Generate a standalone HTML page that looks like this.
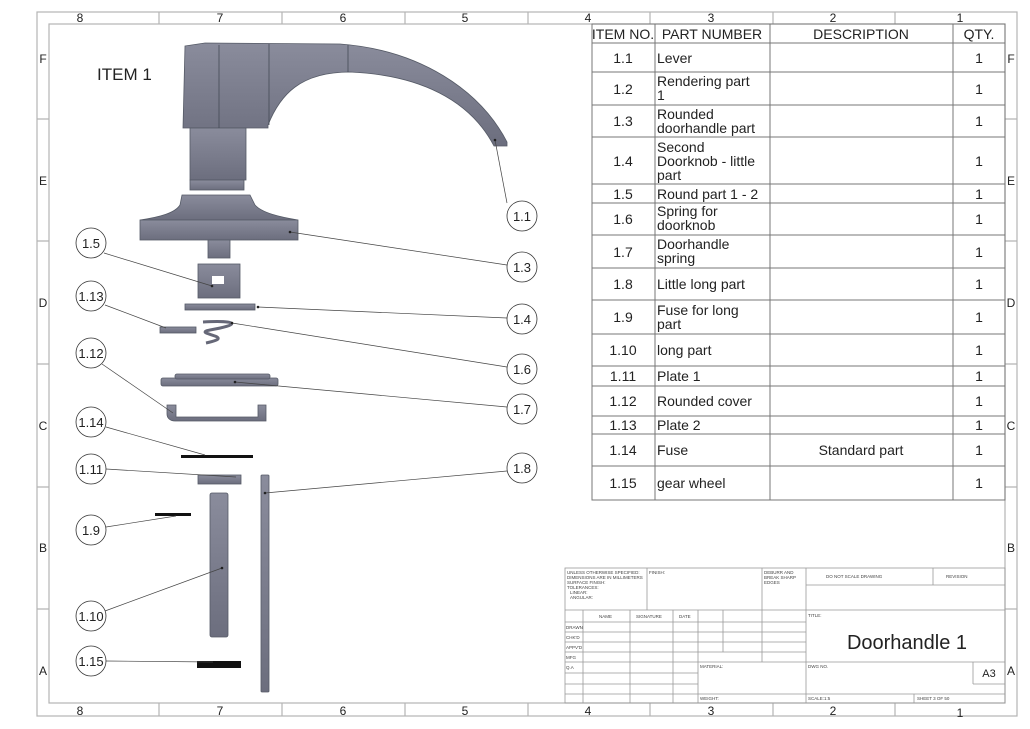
<!DOCTYPE html>
<html><head><meta charset="utf-8"><style>
html,body{margin:0;padding:0;background:#fff;}
svg{display:block;font-family:"Liberation Sans",sans-serif;}
</style></head><body>
<svg width="1030" height="729" viewBox="0 0 1030 729" xmlns="http://www.w3.org/2000/svg">
<defs>
<linearGradient id="g" x1="0" y1="0" x2="0" y2="1"><stop offset="0" stop-color="#8a8c9c"/><stop offset="1" stop-color="#6c6e7e"/></linearGradient>
</defs>
<!-- frame -->
<g fill="none" stroke="#b4b4b4" stroke-width="1.2">
<rect x="37" y="12" width="980" height="704"/>
<rect x="49" y="24" width="956" height="679"/>
<path d="M159 12V24M282 12V24M405 12V24M528 12V24M650 12V24M773 12V24M895 12V24M159 703V716M282 703V716M405 703V716M528 703V716M650 703V716M773 703V716M895 703V716M37 119H49M37 241H49M37 364H49M37 487H49M37 609H49M1005 119H1017M1005 241H1017M1005 364H1017M1005 487H1017M1005 609H1017"/>
</g>
<g font-size="12" fill="#222" text-anchor="middle">
<text x="80" y="22">8</text><text x="220" y="22">7</text><text x="343" y="22">6</text><text x="465" y="22">5</text><text x="588" y="22">4</text><text x="711" y="22">3</text><text x="833" y="22">2</text><text x="960" y="22">1</text>
<text x="80" y="715">8</text><text x="220" y="715">7</text><text x="343" y="715">6</text><text x="465" y="715">5</text><text x="588" y="715">4</text><text x="711" y="715">3</text><text x="833" y="715">2</text><text x="960" y="717">1</text>
<text x="43" y="63">F</text><text x="43" y="185">E</text><text x="43" y="307">D</text><text x="43" y="430">C</text><text x="43" y="552">B</text><text x="43" y="675">A</text>
<text x="1011" y="63">F</text><text x="1011" y="185">E</text><text x="1011" y="307">D</text><text x="1011" y="430">C</text><text x="1011" y="552">B</text><text x="1011" y="675">A</text>
</g>
<text x="97" y="80" font-size="17" fill="#222">ITEM 1</text>

<!-- handle -->
<g fill="url(#g)" stroke="#555a66" stroke-width="0.8">
<path d="M185 46 L205 43 L340 44 C420 50 480 90 507 142 L507 146 L494 146 C470 100 420 75 350 72 C300 72 280 95 268 125 L268 128 L183 128 Z"/>
<rect x="190" y="128" width="56" height="52"/>
<rect x="190" y="180" width="54" height="10"/>
<path d="M182 195 L250 195 L255 205 C262 213 280 217 298 220 L140 220 C160 217 175 213 180 205 Z"/>
<rect x="140" y="220" width="158" height="20"/>
<rect x="208" y="240" width="22" height="18"/>
</g>
<path d="M219 45V128M269 44V125M348 45V72" stroke="#444a55" stroke-width="0.8"/>
<!-- 1.5 -->
<g fill="url(#g)" stroke="#555a66" stroke-width="0.8">
<rect x="198" y="264" width="42" height="34"/>
<rect x="185" y="304" width="70" height="6"/>
<rect x="160" y="327" width="36" height="6"/>
<path d="M203 322 C240 320 240 325 210 330 C190 334 240 336 206 343" fill="none" stroke="#666878" stroke-width="3"/>
<rect x="161" y="378" width="117" height="8" rx="2"/>
<rect x="175" y="374" width="95" height="5" rx="2"/>
<path d="M167 405 H176 V417 H258 V405 H266 V421 H175 C170 421 167 418 167 414 Z"/>
<rect x="198" y="475" width="43" height="9"/>
<rect x="210" y="493" width="18" height="144" rx="2"/>
<rect x="261" y="475" width="8" height="217" rx="1"/>
</g>
<rect x="212" y="276" width="12" height="8" fill="#fff"/>
<g fill="#111">
<rect x="181" y="455" width="72" height="3"/>
<rect x="155" y="513" width="36" height="3"/>
<rect x="197" y="661" width="44" height="7"/>
</g>

<!-- leaders -->
<g stroke="#444" stroke-width="0.7" fill="none">
<path d="M507 203L495 140M507 265L290 232M507 318L258 307M507 367L232 323M507 407L235 382M507 471L265 493"/>
<path d="M104 253L212 286M105 305L166 328M102 364L173 413M106 427L205 455M106 469L236 477M106 527L176 516M105 611L222 568M106 661L213 662"/>
</g>
<g fill="#222"><circle cx="495" cy="140" r="1.3"/><circle cx="290" cy="232" r="1.3"/><circle cx="258" cy="307" r="1.3"/><circle cx="232" cy="323" r="1.3"/><circle cx="235" cy="382" r="1.3"/><circle cx="265" cy="493" r="1.3"/><circle cx="212" cy="286" r="1.3"/><circle cx="222" cy="568" r="1.3"/></g>
<g fill="#fff" stroke="#333" stroke-width="0.8">
<circle cx="522" cy="216" r="15"/><circle cx="522" cy="267" r="15"/><circle cx="522" cy="319" r="15"/><circle cx="522" cy="369" r="15"/><circle cx="522" cy="409" r="15"/><circle cx="522" cy="468" r="15"/>
<circle cx="91" cy="243" r="15"/><circle cx="91" cy="296" r="15"/><circle cx="91" cy="353" r="15"/><circle cx="91" cy="422" r="15"/><circle cx="91" cy="469" r="15"/><circle cx="91" cy="530" r="15"/><circle cx="91" cy="616" r="15"/><circle cx="91" cy="661" r="15"/>
</g>
<g font-size="13" fill="#222" text-anchor="middle">
<text x="522" y="221">1.1</text><text x="522" y="272">1.3</text><text x="522" y="324">1.4</text><text x="522" y="374">1.6</text><text x="522" y="414">1.7</text><text x="522" y="473">1.8</text>
<text x="91" y="248">1.5</text><text x="91" y="301">1.13</text><text x="91" y="358">1.12</text><text x="91" y="427">1.14</text><text x="91" y="474">1.11</text><text x="91" y="535">1.9</text><text x="91" y="621">1.10</text><text x="91" y="666">1.15</text>
</g>

<!-- BOM table -->
<g stroke="#777" stroke-width="1" fill="none">
<rect x="592" y="24" width="413" height="476"/>
<path d="M655 24V500M770 24V500M953 24V500"/>
<path d="M592 43H1005M592 72H1005M592 105H1005M592 137H1005M592 184H1005M592 203H1005M592 235H1005M592 268H1005M592 300H1005M592 334H1005M592 366H1005M592 386H1005M592 416H1005M592 434H1005M592 466H1005"/>
</g>
<g font-size="14" fill="#222">
<g text-anchor="middle">
<text x="623" y="39">ITEM NO.</text><text x="712" y="39">PART NUMBER</text><text x="861" y="39">DESCRIPTION</text><text x="979" y="39">QTY.</text>
<text x="623" y="63">1.1</text><text x="623" y="94">1.2</text><text x="623" y="126">1.3</text><text x="623" y="166">1.4</text><text x="623" y="199">1.5</text><text x="623" y="224">1.6</text><text x="623" y="257">1.7</text><text x="623" y="289">1.8</text><text x="623" y="322">1.9</text><text x="623" y="355">1.10</text><text x="623" y="381">1.11</text><text x="623" y="406">1.12</text><text x="623" y="430">1.13</text><text x="623" y="455">1.14</text><text x="623" y="488">1.15</text>
<text x="861" y="455">Standard part</text>
<g><text x="979" y="63">1</text><text x="979" y="94">1</text><text x="979" y="126">1</text><text x="979" y="166">1</text><text x="979" y="199">1</text><text x="979" y="224">1</text><text x="979" y="257">1</text><text x="979" y="289">1</text><text x="979" y="322">1</text><text x="979" y="355">1</text><text x="979" y="381">1</text><text x="979" y="406">1</text><text x="979" y="430">1</text><text x="979" y="455">1</text><text x="979" y="488">1</text></g>
</g>
<text x="657" y="63">Lever</text>
<text x="657" y="86">Rendering  part</text><text x="657" y="100">1</text>
<text x="657" y="119">Rounded</text><text x="657" y="133">doorhandle part</text>
<text x="657" y="152">Second</text><text x="657" y="166">Doorknob - little</text><text x="657" y="180">part</text>
<text x="657" y="199">Round part 1 - 2</text>
<text x="657" y="216">Spring for</text><text x="657" y="230">doorknob</text>
<text x="657" y="249">Doorhandle</text><text x="657" y="263">spring</text>
<text x="657" y="289">Little long part</text>
<text x="657" y="315">Fuse for long</text><text x="657" y="329">part</text>
<text x="657" y="355">long part</text>
<text x="657" y="381">Plate 1</text>
<text x="657" y="406">Rounded cover</text>
<text x="657" y="430">Plate 2</text>
<text x="657" y="455">Fuse</text>
<text x="657" y="488">gear wheel</text>
</g>

<!-- title block -->
<g stroke="#999" stroke-width="0.8" fill="none">
<rect x="565" y="568" width="440" height="135"/>
<path d="M647 568V610M762 568V662M806 568V703M933 568V585M806 585H1005M565 610H1005"/>
<path d="M583 610V703M630 610V703M673 610V703M698 610V703M723 610V652M565 622H806M565 632H806M565 642H806M565 652H806M565 662H806M565 673H698M565 684H698M565 694H806M806 662H1005M973 662V684M973 684H1005M806 694H1005M914 694V703"/>
</g>
<g font-size="4.5" fill="#444">
<text x="567" y="574">UNLESS OTHERWISE SPECIFIED:</text><text x="567" y="579">DIMENSIONS ARE IN MILLIMETERS</text><text x="567" y="584">SURFACE FINISH:</text><text x="567" y="589">TOLERANCES:</text><text x="570" y="594">LINEAR:</text><text x="570" y="599">ANGULAR:</text>
<text x="649" y="574">FINISH:</text>
<text x="764" y="574">DEBURR AND</text><text x="764" y="579">BREAK SHARP</text><text x="764" y="584">EDGES</text>
<text x="826" y="578">DO NOT SCALE DRAWING</text><text x="946" y="578">REVISION</text>
<text x="599" y="618">NAME</text><text x="636" y="618">SIGNATURE</text><text x="679" y="618">DATE</text>
<text x="566" y="629">DRAWN</text><text x="566" y="639">CHK'D</text><text x="566" y="649">APPV'D</text><text x="566" y="659">MFG</text><text x="566" y="669">Q.A</text>
<text x="700" y="668">MATERIAL:</text><text x="700" y="700">WEIGHT:</text>
<text x="808" y="617">TITLE:</text><text x="808" y="668">DWG NO.</text><text x="808" y="700">SCALE:1:5</text><text x="917" y="700">SHEET 3 OF 50</text>
</g>
<text x="907" y="649" font-size="20" fill="#222" text-anchor="middle">Doorhandle 1</text>
<text x="989" y="677" font-size="11" fill="#222" text-anchor="middle">A3</text>
</svg>
</body></html>
